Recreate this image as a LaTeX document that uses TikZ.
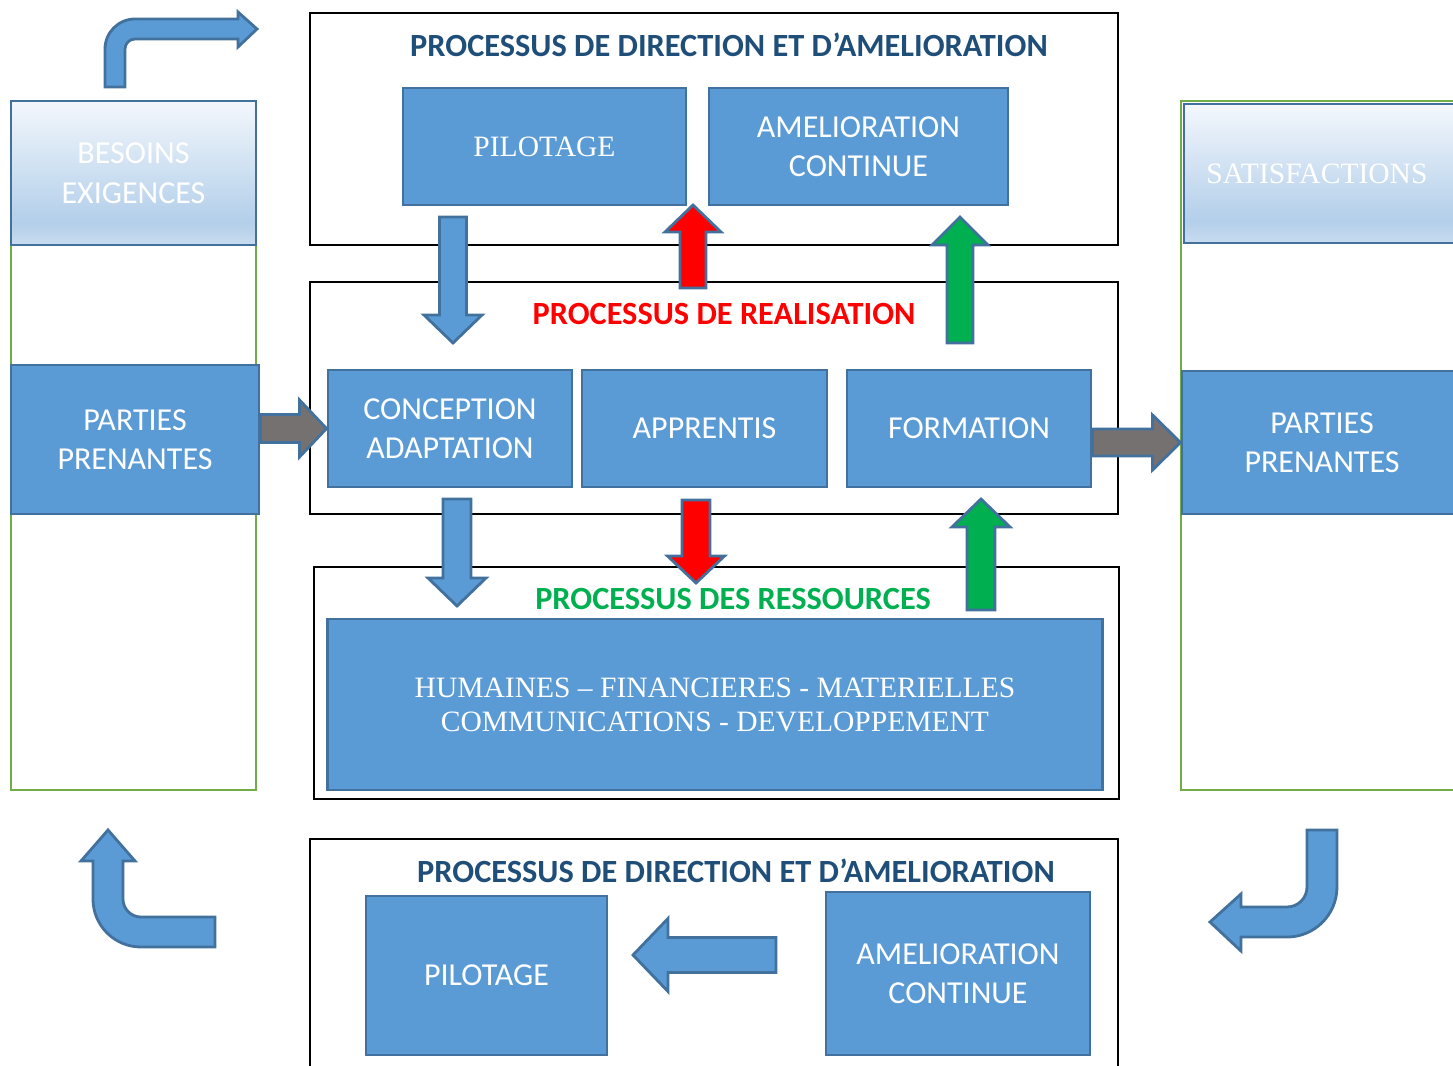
\documentclass[tikz,border=0pt]{standalone}
\usepackage{fontspec}
\setmainfont{Carlito}
\newfontfamily\timesfont{Liberation Serif}
\usepackage{xcolor}
\usetikzlibrary{calc,positioning}

\definecolor{boxblue}{HTML}{5B9BD5}
\definecolor{boxline}{HTML}{41719C}
\definecolor{titleblue}{HTML}{1F4E79}
\definecolor{realred}{HTML}{FF0000}
\definecolor{resgreen}{HTML}{00B050}
\definecolor{sidegreen}{HTML}{70AD47}
\definecolor{arrowgray}{HTML}{767171}
\definecolor{shtop}{HTML}{F3F7FC}
\definecolor{shmid}{HTML}{B3CFEA}
\definecolor{shbot}{HTML}{C8DCEF}

\pgfdeclareverticalshading{paleblue}{100bp}{color(0bp)=(shbot); color(25bp)=(shbot); color(33bp)=(shmid); color(75bp)=(shtop); color(100bp)=(shtop)}

% thick block arrow: style, from, to, half shaft, half head, head length
\newcommand{\fatarrow}[6]{%
	\coordinate (fa-s) at (#2);
	\coordinate (fa-e) at (#3);
	\coordinate (fa-h) at ($(fa-e)!#6*0.01cm!(fa-s)$);
	\draw[#1] ($(fa-s)!#4*0.01cm!90:(fa-e)$) -- ($(fa-h)!#4*0.01cm!90:(fa-e)$) -- ($(fa-h)!#5*0.01cm!90:(fa-e)$) -- (fa-e) -- ($(fa-h)!#5*0.01cm!-90:(fa-e)$) -- ($(fa-h)!#4*0.01cm!-90:(fa-e)$) -- ($(fa-s)!#4*0.01cm!-90:(fa-e)$) -- cycle;
}

\tikzset{
	box/.style={draw=boxline, fill=boxblue, line width=0.8pt, text=white, align=center, inner sep=0pt, font=\fontsize{9.1}{11.1}\selectfont},
	tbox/.style={box, font=\timesfont\fontsize{8.4}{9.7}\selectfont},
	pale/.style={draw=boxline, shading=paleblue, line width=0.8pt, text=white, align=center, inner sep=0pt, font=\fontsize{9.1}{11.3}\selectfont},
	tpale/.style={pale, font=\timesfont\fontsize{8.4}{9.7}\selectfont},
	frame/.style={draw=black, line width=0.8pt},
	side/.style={draw=sidegreen, line width=0.8pt},
	title/.style={font=\bfseries\fontsize{9.2}{11}\selectfont},
	bluearrow/.style={draw=boxline, fill=boxblue, line width=0.8pt},
	redarrow/.style={draw=boxline, fill=realred, line width=0.8pt},
	greenarrow/.style={draw=boxline, fill=resgreen, line width=0.8pt},
	grayarrow/.style={draw=boxline, fill=arrowgray, line width=0.8pt},
}

\begin{document}
\begin{tikzpicture}[x=0.01cm, y=-0.01cm]
	\useasboundingbox (0,0) rectangle (1453,1066);
	\clip (0,0) rectangle (1453,1066);
	% side columns
	\draw[side] (11,101) rectangle (256,790);
	\draw[side] (1181,101) rectangle (1480,790);
	\node[pale, minimum width=2.45cm, minimum height=1.44cm] (besoins) at (133.5,173) {BESOINS\\EXIGENCES};
	\node[box, minimum width=2.48cm, minimum height=1.49cm] (ppl) at (135,439.5) {PARTIES\\PRENANTES};
	\node[tpale, minimum width=2.76cm, minimum height=1.39cm] (satis) at (1322,173.5) {\hspace*{-0.1cm}SATISFACTIONS};
	\node[box, minimum width=2.80cm, minimum height=1.43cm] (ppr) at (1322,442.5) {PARTIES\\PRENANTES};
	% process frames
	\draw[frame] (310,13) rectangle (1118,245);
	\draw[frame] (310,282) rectangle (1118,514);
	\draw[frame] (314,567) rectangle (1119,799);
	\draw[frame] (310,839) rectangle (1118,1090);
	\node[title, text=titleblue] (ttop) at (729,45) {PROCESSUS DE DIRECTION ET D’AMELIORATION};
	\node[title, text=realred] (treal) at (724,314) {PROCESSUS DE REALISATION};
	\node[title, text=resgreen] (tres) at (733,599) {PROCESSUS DES RESSOURCES};
	\node[title, text=titleblue] (tbot) at (736,871) {PROCESSUS DE DIRECTION ET D’AMELIORATION};
	% boxes
	\node[tbox, minimum width=2.83cm, minimum height=1.17cm] (pilt) at (544.5,146.5) {PILOTAGE};
	\node[box, minimum width=2.99cm, minimum height=1.17cm] (amelt) at (858.5,146.5) {AMELIORATION\\CONTINUE};
	\node[box, minimum width=2.44cm, minimum height=1.17cm] (concep) at (450,428.5) {CONCEPTION\\ADAPTATION};
	\node[box, minimum width=2.45cm, minimum height=1.17cm] (appr) at (704.5,428.5) {APPRENTIS};
	\node[box, minimum width=2.44cm, minimum height=1.17cm] (form) at (969,428.5) {FORMATION};
	\node[tbox, minimum width=7.74cm, minimum height=1.71cm] (resso) at (715,704.5) {HUMAINES – FINANCIERES - MATERIELLES\\COMMUNICATIONS - DEVELOPPEMENT};
	\node[box, minimum width=2.41cm, minimum height=1.59cm] (pilb) at (486.5,975.5) {PILOTAGE};
	\node[box, minimum width=2.64cm, minimum height=1.63cm] (amelb) at (958,973.5) {AMELIORATION\\CONTINUE};
	% straight arrows
	\fatarrow{bluearrow}{453,217}{453,343}{13.5}{29}{28}
	\fatarrow{redarrow}{693,288}{693,205}{13}{28}{27}
	\fatarrow{greenarrow}{960,343}{960,217}{13}{28}{28}
	\fatarrow{grayarrow}{ppl.east |- concep.west}{concep.west}{14}{28.5}{27}
	\fatarrow{grayarrow}{form.east |- ppr.west}{ppr.west}{13.5}{27.5}{28}
	\fatarrow{bluearrow}{457,499}{457,606}{14}{29}{28}
	\fatarrow{redarrow}{696,500}{696,583}{14}{28.5}{27}
	\fatarrow{greenarrow}{981,610}{981,499}{14}{29}{28}
	\fatarrow{bluearrow}{776,955}{633,955}{17.5}{36.5}{35}
	% bent arrows
	\draw[bluearrow] (105,87) -- (105,49) arc[start angle=180, end angle=90, radius=0.3cm] -- (238,19) -- (238,12) -- (257,29) -- (238,47) -- (238,39) -- (135,39) arc[start angle=90, end angle=180, radius=0.1cm] -- (125,87) -- cycle;
	\draw[bluearrow] (108,830) -- (135,861) -- (123,861) -- (123,899) arc[start angle=180, end angle=270, radius=0.18cm] -- (215,917) -- (215,947) -- (141,947) arc[start angle=270, end angle=180, radius=0.48cm] -- (93,861) -- (81,861) -- cycle;
	\draw[bluearrow] (1307,830) -- (1337,830) -- (1337,887) arc[start angle=0, end angle=-90, radius=0.5cm] -- (1241,937) -- (1241,951) -- (1210,922) -- (1241,894) -- (1241,907) -- (1287,907) arc[start angle=-90, end angle=0, radius=0.2cm] -- cycle;
\end{tikzpicture}
\end{document}
